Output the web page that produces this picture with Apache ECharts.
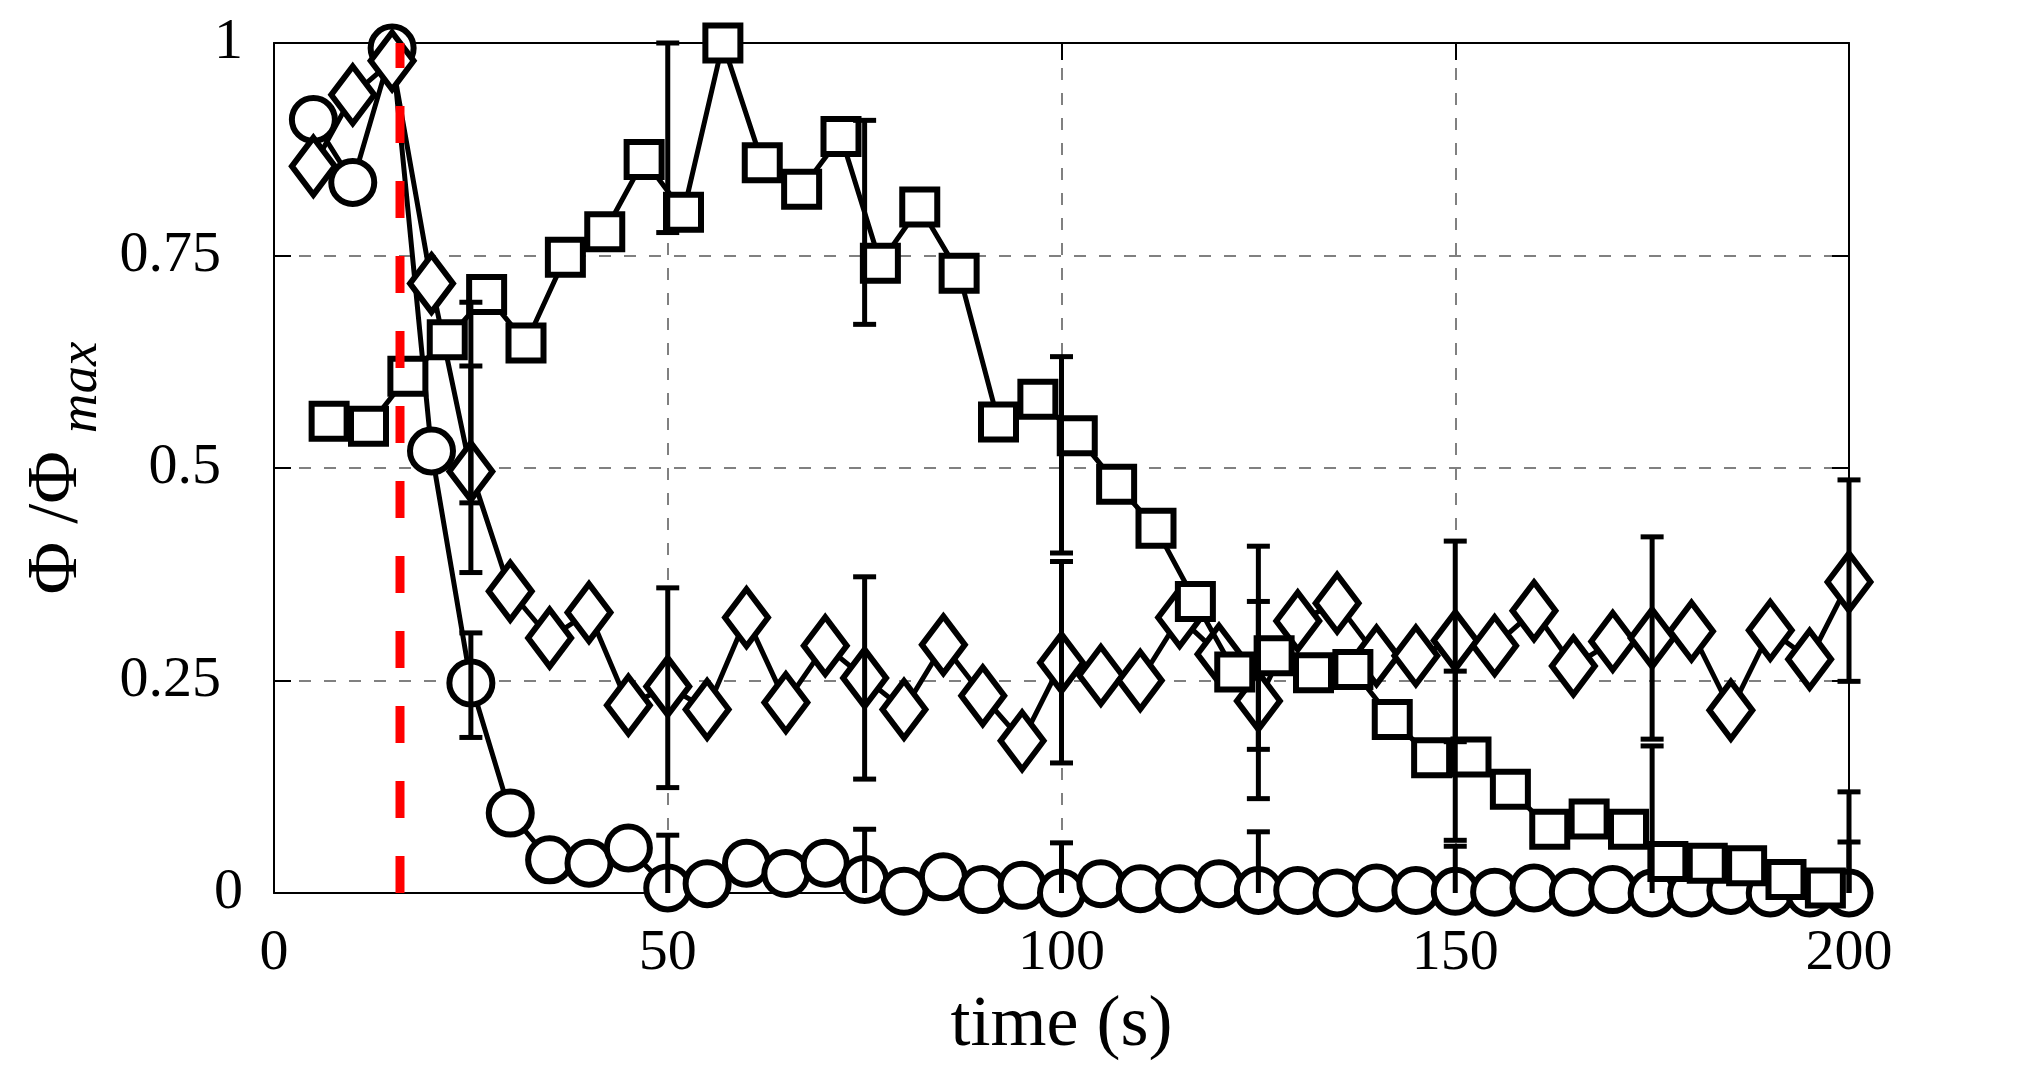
<!DOCTYPE html>
<html lang="en">
<head>
<meta charset="UTF-8">
<title>Phi / Phi max</title>
<script src="https://cdn.jsdelivr.net/npm/echarts@6/dist/echarts.min.js"></script>
<style>
html,body{margin:0;padding:0;background-color:#fff}
#chartBox{width:2032px;height:1078px}
</style>
</head>
<body>
<div id="chartBox"></div>
<script>
// values
const circleTime = [5,10,15,20,25,30,35,40,45,50,55,60,65,70,75,80,85,90,95,100,
    105,110,115,120,125,130,135,140,145,150,155,160,165,170,175,180,185,190,195,200];
const circleVal = [0.910,0.836,0.994,0.520,0.247,0.094,0.039,0.035,0.053,0.006,
    0.011,0.035,0.023,0.035,0.016,0.002,0.019,0.004,0.009,0.000,
    0.011,0.005,0.005,0.011,0.003,0.003,0.000,0.006,0.003,0.002,
    0.001,0.006,0.001,0.004,0.000,0.000,0.003,0.000,0.000,0.000];

const diamondTime = circleTime;
const diamondVal = [0.855,0.939,0.979,0.717,0.496,0.355,0.300,0.330,0.221,0.243,
    0.216,0.324,0.224,0.291,0.253,0.216,0.292,0.232,0.179,0.271,
    0.256,0.250,0.324,0.281,0.226,0.320,0.341,0.279,0.279,0.297,
    0.291,0.332,0.267,0.296,0.300,0.308,0.215,0.309,0.275,0.366];

const squareTime = [7,12,17,22,27,32,37,42,47,52,57,62,67,72,77,82,87,92,97,102,
    107,112,117,122,127,132,137,142,147,152,157,162,167,172,177,182,187,192,197];
const squareVal = [0.555,0.549,0.608,0.651,0.704,0.647,0.748,0.778,0.863,0.801,
    1.000,0.859,0.828,0.890,0.741,0.807,0.729,0.554,0.581,0.538,
    0.481,0.429,0.343,0.260,0.279,0.259,0.263,0.204,0.159,0.160,
    0.122,0.075,0.087,0.075,0.037,0.035,0.032,0.016,0.006];

// error bars: time, lower end, upper end
const errTime = [25,25,25, 50,50,50, 75,75,75, 100,100,100, 125,125,125, 150,150,150, 175,175, 200,200,200];
const errLow  = [0.183,0.377,0.459, 0,0.124,0.777, 0,0.134,0.669, 0,0.153,0.400, 0,0.111,0.169, 0,0.178,0.062, 0.181,0, 0,0.249,0];
const errHigh = [0.306,0.620,0.695, 0.068,0.359,1.000, 0.075,0.372,0.909, 0.059,0.390,0.631, 0.072,0.343,0.408, 0.055,0.414,0.261, 0.419,0.173, 0.060,0.486,0.119];

// red dashed marker line
const markTime = 16;
const markRange = [0, 1];

const xTickLabels = ['0', '50', '100', '150', '200'];
const yTickLabels = ['0', '0.25', '0.5', '0.75', '1'];

const FONT = 'Liberation Serif';

function zipPoints(xs, ys) {
    return xs.map((x, i) => [x, ys[i]]);
}

function renderErrorBar(params, api) {
    let x = api.value(0), lo = api.value(1), hi = api.value(2);
    let top = api.coord([x, hi]);
    let bot = api.coord([x, lo]);
    let half = 11.5;
    let style = {stroke: '#000', lineWidth: 5, fill: null};
    let children = [
        {type: 'line', shape: {x1: top[0], y1: top[1], x2: bot[0], y2: bot[1]}, style: style},
        {type: 'line', shape: {x1: top[0] - half, y1: top[1], x2: top[0] + half, y2: top[1]}, style: style}
    ];
    if (lo > 0) {
        children.push({type: 'line', shape: {x1: bot[0] - half, y1: bot[1], x2: bot[0] + half, y2: bot[1]}, style: style});
    }
    return {type: 'group', children: children};
}

function markerSeries(name, data, symbol, size, z) {
    return {
        type: 'line',
        name: name,
        data: data,
        z: z,
        symbol: symbol,
        symbolSize: size,
        showAllSymbol: true,
        animation: false,
        lineStyle: {color: '#000', width: 5},
        itemStyle: {color: '#fff', borderColor: '#000', borderWidth: 6}
    };
}

const axisLineStyle = {show: true, onZero: false, lineStyle: {color: '#000', width: 2}};
const tickStyle = {show: true, inside: true, length: 17, lineStyle: {color: '#000', width: 2}};
const gridLineStyle = {show: true, lineStyle: {color: '#808080', width: 2, type: [12, 13]}};
const labelFont = {fontFamily: FONT, fontSize: 58, color: '#000'};

let chartObj = echarts.init(document.getElementById('chartBox'));
chartObj.setOption({
    backgroundColor: '#fff',
    animation: false,
    grid: {left: 274, top: 43, width: 1575, height: 850},
    xAxis: [
        {
            type: 'value', min: 0, max: 200, interval: 50, position: 'bottom',
            axisLine: axisLineStyle, axisTick: tickStyle, splitLine: gridLineStyle,
            axisLabel: Object.assign({
                margin: 32,
                formatter: v => xTickLabels[Math.round(v / 50)]
            }, labelFont),
            name: 'time (s)', nameLocation: 'middle', nameGap: 97,
            nameTextStyle: {fontFamily: FONT, fontSize: 72, color: '#000'}
        },
        {
            type: 'value', min: 0, max: 200, interval: 50, position: 'top',
            axisLine: axisLineStyle, axisTick: tickStyle,
            axisLabel: {show: false}, splitLine: {show: false}
        }
    ],
    yAxis: [
        {
            type: 'value', min: 0, max: 1, interval: 0.25, position: 'left',
            axisLine: axisLineStyle, axisTick: tickStyle, splitLine: gridLineStyle,
            axisLabel: Object.assign({
                margin: 31,
                formatter: function (v) {
                    let s = yTickLabels[Math.round(v / 0.25)];
                    return s.indexOf('.') >= 0 ? '{d|' + s + '}' : '{i|' + s + '}';
                },
                rich: {
                    d: Object.assign({padding: [0, 22, 0, 0]}, labelFont),
                    i: Object.assign({}, labelFont)
                }
            }, labelFont),
            name: '{a|Φ /Φ}{s| }{b|max}', nameLocation: 'middle', nameRotate: 90, nameGap: 158,
            nameTextStyle: {
                rich: {
                    a: {fontFamily: FONT, fontSize: 72, color: '#000'},
                    s: {fontFamily: FONT, fontSize: 72, color: '#000'},
                    b: {fontFamily: FONT, fontSize: 55, fontStyle: 'italic', color: '#000', padding: [48, 0, 0, 0]}
                }
            }
        },
        {
            type: 'value', min: 0, max: 1, interval: 0.25, position: 'right',
            axisLine: axisLineStyle, axisTick: tickStyle,
            axisLabel: {show: false}, splitLine: {show: false}
        }
    ],
    series: [
        markerSeries('circles', zipPoints(circleTime, circleVal), 'circle', 43, 2),
        markerSeries('diamonds', zipPoints(diamondTime, diamondVal), 'diamond', [43, 57], 4),
        markerSeries('squares', zipPoints(squareTime, squareVal), 'rect', 35, 5),
        {
            type: 'custom', name: 'errors', z: 6, animation: false,
            renderItem: renderErrorBar,
            encode: {x: 0, y: [1, 2]},
            data: errTime.map((t, i) => [t, errLow[i], errHigh[i]])
        },
        {
            type: 'line', name: 'mark', z: 7, symbol: 'none', animation: false,
            data: markRange.map(v => [markTime, v]),
            lineStyle: {color: '#ff0000', width: 9, type: [37, 38]}
        }
    ]
});
</script>
</body>
</html>
